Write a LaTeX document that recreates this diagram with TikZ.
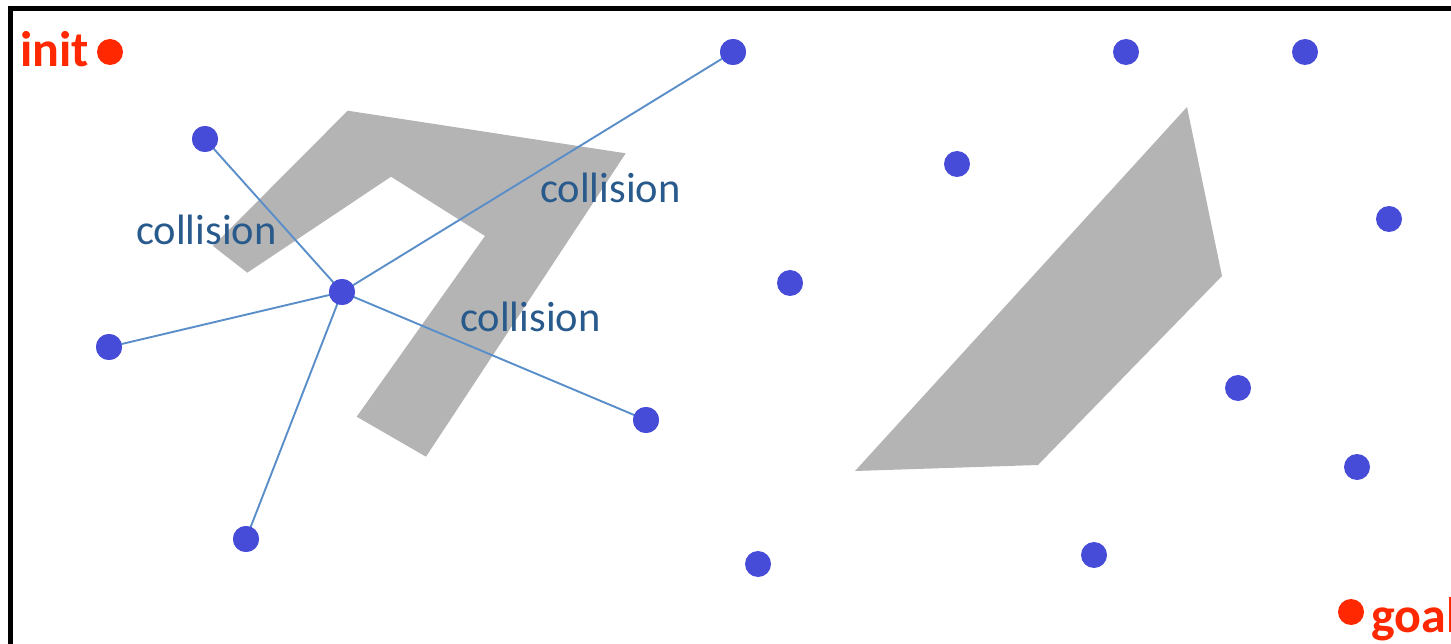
\documentclass[tikz,border=0pt]{standalone}
\usepackage{fontspec}
\setmainfont{Carlito}
\definecolor{dotblue}{RGB}{70,76,216}
\definecolor{edgeblue}{RGB}{90,142,201}
\definecolor{labblue}{RGB}{40,90,140}
\definecolor{obsgray}{RGB}{180,180,180}
\definecolor{termred}{RGB}{255,40,0}
\tikzset{
  sample/.style={circle,fill=dotblue,inner sep=0pt,minimum size=26pt},
  term/.style={circle,fill=termred,inner sep=0pt,minimum size=26pt},
  edge/.style={draw=edgeblue,line width=1.9pt},
  obstacle/.style={fill=obsgray,draw=none},
  coll/.style={text=labblue,font=\fontsize{42.5}{50}\selectfont,anchor=base west,inner sep=0pt},
  termlab/.style={text=termred,font=\fontsize{50}{58}\selectfont\bfseries,anchor=base west,inner sep=0pt}
}
\begin{document}
\begin{tikzpicture}[x=1pt,y=-1pt]
\useasboundingbox (0,0) rectangle (1451,644);
\begin{scope}
\clip (0,0) rectangle (1451,644);
% obstacles
\fill[obstacle] (347.7,110.7) -- (625.7,153.3) -- (426,456.7) -- (356.7,416.7) -- (485,236) -- (391,176.7) -- (247.3,272.7) -- (213,246) -- cycle;
\fill[obstacle] (1187,107) -- (1222,276) -- (1038,465) -- (855,471) -- cycle;
% border
\draw[line width=5pt] (10.5,8.5) rectangle (1470,670);
% samples
\node[sample] (n1) at (733,52) {};
\node[sample] (n2) at (1126,52) {};
\node[sample] (n3) at (1305,52) {};
\node[sample] (n4) at (205,139) {};
\node[sample] (n5) at (957,164) {};
\node[sample] (n6) at (1389,219) {};
\node[sample] (c) at (342,292) {};
\node[sample] (n7) at (790,283) {};
\node[sample] (n8) at (109,347) {};
\node[sample] (n9) at (646,420) {};
\node[sample] (n10) at (1238,388) {};
\node[sample] (n11) at (1357,467) {};
\node[sample] (n12) at (246,539) {};
\node[sample] (n13) at (758,564) {};
\node[sample] (n14) at (1094,555) {};
% edges
\draw[edge] (c.center) -- (n1.center);
\draw[edge] (c.center) -- (n4.center);
\draw[edge] (c.center) -- (n8.center);
\draw[edge] (c.center) -- (n9.center);
\draw[edge] (c.center) -- (n12.center);
\foreach \n in {n1,n4,n8,n9,n12,c} {\fill[dotblue] (\n) circle (13pt);}
% labels
\node[coll] (l1) at (136,245) {collision};
\node[coll] (l2) at (540,203) {collision};
\node[coll] (l3) at (460,331.5) {collision};
% init / goal
\node[term] (init) at (110,52) {};
\node[termlab] (initlab) at (20,67) {init};
\node[term] (goal) at (1351,612) {};
\node[termlab] (goallab) at (1371,632) {goal};
\end{scope}
\end{tikzpicture}
\end{document}
